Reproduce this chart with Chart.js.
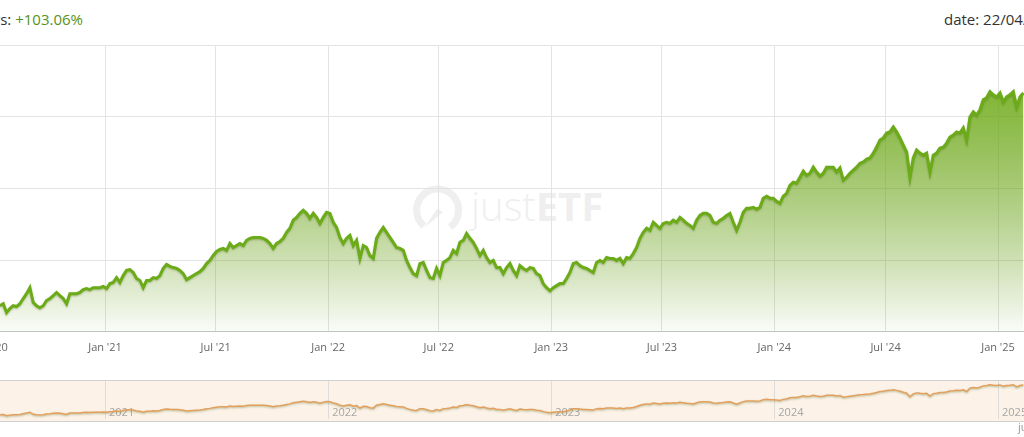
<!DOCTYPE html>
<html>
<head>
<meta charset="utf-8">
<script src="https://cdn.jsdelivr.net/npm/chart.js"></script>
<style>
  body { margin: 0; width: 1024px; height: 437px; overflow: hidden; background: #fff; position: relative; font-family: "Open Sans", sans-serif; }
  .head { position: absolute; top: 9px; font-size: 15px; line-height: 20px; color: #333; white-space: nowrap; }
  .perf { right: 941px; text-align: right; }
  .perf span { color: #569222; }
  .date { left: 944px; }
  .mark { position: absolute; left: 410px; top: 182px; width: 200px; height: 56px; color: #efefef; }
  .mark svg { position: absolute; left: 0; top: 0; }
  .mark .word { position: absolute; left: 61px; top: 4px; font-size: 40px; line-height: 40px; white-space: nowrap; }
  .mark .word b { font-weight: 700; }
  .mark .word i { font-style: normal; font-weight: 300; }
  #mainBox { position: absolute; left: -60px; top: 40px; width: 1084px; height: 323px; }
  #navWrap { position: absolute; left: 0; top: 380px; width: 1024px; height: 40px; background: #fcf2e8; border-top: 1px solid #d0d0d0; border-bottom: 1px solid #d0d0d0; }
  #navBox { position: absolute; left: -60px; top: 0; width: 1084px; height: 40px; }
  .credit { position: absolute; left: 1018px; top: 420px; font-size: 11px; line-height: 14px; color: #999; white-space: nowrap; }
</style>
</head>
<body>
<div class="head perf">Performance 5 years: <span>+103.06%</span></div>
<div class="head date">date: 22/04/2025</div>

<div class="mark">
  <svg width="56" height="56" viewBox="0 0 56 56">
    <path d="M 14 44 A 21 21 0 1 1 40 45" fill="none" stroke="#efefef" stroke-width="7"/>
    <path d="M 27 27 L 33 30 L 14 46 Z" fill="#efefef"/>
  </svg>
  <div class="word"><i>just</i><b>ETF</b></div>
</div>

<div id="mainBox"><canvas id="perfChart"></canvas></div>
<div id="navWrap"><div id="navBox"><canvas id="navChart"></canvas></div></div>
<div class="credit">justETF.com</div>

<script>
// performance readings (in %), one every ~5.45 days starting 13 Jul 2020
const sampleStart = Date.UTC(2020, 6, 13);
const sampleStepDays = 5.454;
const perfValues = [
  9.1, 9.8, 6.7, 8.1, 9.1, 8.8, 9.8, 11.6, 13.3, 15.4,
  10.2, 9.1, 8.4, 9.1, 10.9, 11.6, 12.6, 13.7, 12.6, 11.6,
  9.8, 13.3, 13.3, 13.3, 13.7, 14.7, 15.1, 14.7, 15.4, 15.4,
  15.4, 15.8, 15.1, 16.8, 17.2, 18.9, 17.2, 19.6, 21.4, 21.7,
  20.7, 18.6, 17.9, 15.4, 17.9, 17.9, 18.9, 18.6, 19.6, 22.1,
  23.5, 22.8, 22.4, 22.1, 21.4, 20.3, 18.2, 18.9, 19.6, 20.3,
  21.0, 22.1, 23.8, 24.9, 26.6, 28.0, 28.7, 29.1, 28.4, 30.8,
  29.4, 30.1, 30.8, 30.1, 31.9, 32.6, 32.9, 32.9,
  32.9, 32.6, 31.9, 30.8, 29.1, 30.8, 31.5, 32.6, 34.7, 36.1,
  38.9, 39.9, 41.3, 42.4, 41.3, 39.6, 41.3, 39.9, 37.8, 39.9,
  41.7, 41.3, 38.2, 36.4, 32.9, 30.8, 32.6, 33.6, 30.1, 31.9,
  25.6, 30.1, 29.4, 26.6, 25.6, 32.6, 34.7, 36.4, 34.7, 32.9,
  31.2, 29.4, 29.1, 28.4, 24.9, 22.4, 20.3, 19.6, 23.8, 24.2,
  21.4, 18.9, 18.6, 22.1, 19.6, 24.2, 24.9, 25.9, 28.4, 27.3,
  31.2, 31.9, 34.3, 32.6, 31.2, 29.1, 26.6, 28.4, 25.9, 24.2,
  24.9, 22.4,
  22.4, 20.3, 22.4, 23.8, 21.4, 19.6, 23.1, 22.1, 21.4, 22.4,
  22.1, 20.3, 19.6, 16.8, 15.4, 14.3, 15.4, 16.1, 16.8, 16.8,
  18.6, 20.7, 23.8, 24.2, 23.1, 22.4, 22.1, 21.4, 20.7, 24.2,
  24.9, 24.2, 25.9, 25.6, 25.6, 24.9, 25.6, 23.8, 25.9, 25.6,
  27.3, 29.4, 32.6, 34.7, 36.1, 35.4, 38.2, 37.1, 36.1, 37.8,
  38.2, 37.8, 38.9, 38.2, 39.9, 38.9, 37.8, 37.1, 36.1, 38.9,
  40.6, 41.3, 41.3, 40.6, 38.2, 37.8, 38.9, 39.6, 40.6, 41.3,
  38.2, 35.4, 38.2, 41.7, 43.1, 43.1, 43.4, 42.7,
  43.4, 46.6, 47.3, 46.6, 46.6, 45.5, 44.8, 47.3, 48.3, 51.1,
  52.2, 51.8, 53.9, 56.0, 54.6, 55.3, 57.4, 55.7, 54.3, 55.3,
  57.4, 57.4, 57.4, 55.7, 57.1, 52.9, 53.9, 55.3, 56.4, 57.4,
  58.8, 59.2, 60.2, 60.6, 62.3, 64.4, 66.9, 67.6, 69.3, 69.7,
  71.4, 69.7, 67.6, 65.1, 62.7, 53.9, 60.6, 63.4, 62.3, 61.6,
  62.3, 55.7, 61.6, 62.3, 64.1, 64.4, 65.8, 67.9, 68.6, 69.7,
  69.3, 71.1, 66.9, 74.9, 76.7, 75.6, 77.4, 80.9, 81.6, 83.7,
  82.6, 81.9, 83.3, 80.2, 81.9, 82.6, 83.7, 78.4, 81.9, 83.3
];

const tickDates = ['2020-07-01', '2021-01-01', '2021-07-01', '2022-01-01', '2022-07-01',
                   '2023-01-01', '2023-07-01', '2024-01-01', '2024-07-01', '2025-01-01'];
const tickLabels = ["Jul '20", "Jan '21", "Jul '21", "Jan '22", "Jul '22",
                    "Jan '23", "Jul '23", "Jan '24", "Jul '24", "Jan '25"];
const navDates = ['2021-01-01', '2022-01-01', '2023-01-01', '2024-01-01', '2025-01-01'];
const navLabels = ['2021', '2022', '2023', '2024', '2025'];

const DAY = 86400000;
const viewMin = Date.UTC(2020, 3, 6);
const viewMax = Date.UTC(2025, 1, 12, 12);
const points = perfValues.map((v, i) => ({ x: sampleStart + i * sampleStepDays * DAY, y: v }));

const lineShadow = {
  id: 'lineShadow',
  beforeDatasetsDraw(chart) {
    const c = chart.ctx;
    c.save();
    c.shadowColor = 'rgba(60, 90, 0, 0.35)';
    c.shadowBlur = 2;
    c.shadowOffsetY = 1;
  },
  afterDatasetsDraw(chart) { chart.ctx.restore(); }
};

new Chart(document.getElementById('perfChart'), {
  type: 'line',
  data: {
    datasets: [{
      data: points,
      borderColor: '#6aab17',
      borderWidth: 3,
      pointRadius: 0,
      tension: 0,
      fill: 'origin',
      backgroundColor: function(ctx) {
        const area = ctx.chart.chartArea;
        if (!area) return 'rgba(112,176,22,0.3)';
        const g = ctx.chart.ctx.createLinearGradient(0, area.top, 0, area.bottom);
        g.addColorStop(0, 'rgba(112,176,22,0.95)');
        g.addColorStop(1, 'rgba(112,176,22,0.02)');
        return g;
      }
    }]
  },
  options: {
    responsive: true,
    maintainAspectRatio: false,
    animation: false,
    layout: { padding: { top: 5, left: 0, right: 0, bottom: 0 } },
    plugins: { legend: { display: false }, tooltip: { enabled: false } },
    scales: {
      x: {
        type: 'linear',
        min: viewMin,
        max: viewMax,
        afterBuildTicks: axis => { axis.ticks = tickDates.map(d => ({ value: Date.parse(d) })); },
        ticks: {
          autoSkip: false,
          maxRotation: 0,
          padding: 9,
          color: '#666',
          font: { family: 'Open Sans', size: 11 },
          callback: (value, index) => tickLabels[index]
        },
        grid: { color: '#e3e3e3', drawTicks: false },
        border: { display: true, color: '#c4c4c4', width: 1 }
      },
      y: {
        min: 0,
        max: 100,
        ticks: { display: false, stepSize: 25 },
        grid: { color: '#e3e3e3', drawTicks: false },
        border: { display: false }
      }
    }
  },
  plugins: [lineShadow]
});

new Chart(document.getElementById('navChart'), {
  type: 'line',
  data: {
    datasets: [{
      data: points,
      borderColor: '#e2a05c',
      borderWidth: 1.5,
      pointRadius: 0,
      tension: 0,
      fill: false
    }]
  },
  options: {
    responsive: true,
    maintainAspectRatio: false,
    animation: false,
    layout: { padding: { top: 0, left: 0, right: 0, bottom: 2 } },
    plugins: { legend: { display: false }, tooltip: { enabled: false } },
    scales: {
      x: {
        type: 'linear',
        min: viewMin,
        max: viewMax,
        afterBuildTicks: axis => { axis.ticks = navDates.map(d => ({ value: Date.parse(d) })); },
        ticks: {
          autoSkip: false,
          maxRotation: 0,
          align: 'start',
          labelOffset: 4,
          padding: -13,
          color: '#a6a6a6',
          font: { family: 'Open Sans', size: 11 },
          callback: (value, index) => navLabels[index]
        },
        grid: { color: '#dcdcdc', drawTicks: false },
        border: { display: false }
      },
      y: { display: false, min: -1.5, max: 93 }
    }
  },
  plugins: [lineShadow]
});
</script>
</body>
</html>
